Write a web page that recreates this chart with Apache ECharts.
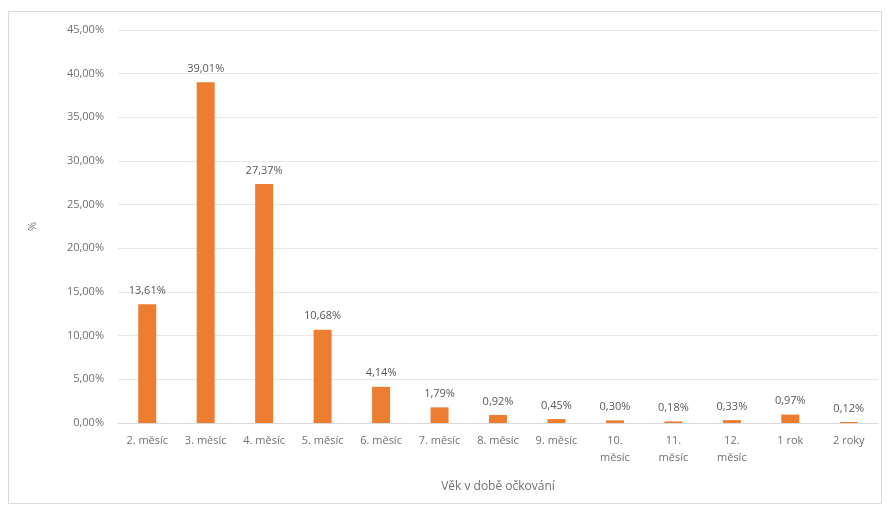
<!DOCTYPE html>
<html><head><meta charset="utf-8">
<script src="https://cdn.jsdelivr.net/npm/echarts@6/dist/echarts.min.js"></script>
<style>html,body{margin:0;padding:0;background:#fff}#c{width:890px;height:506px}</style>
</head><body><div id="c"></div>
<script>
var categories = ['2. měsíc','3. měsíc','4. měsíc','5. měsíc','6. měsíc','7. měsíc','8. měsíc','9. měsíc','10.\nměsíc','11.\nměsíc','12.\nměsíc','1 rok','2 roky'];
var values = [13.61, 39.01, 27.37, 10.68, 4.14, 1.79, 0.92, 0.45, 0.30, 0.18, 0.33, 0.97, 0.12];
var yTicks = [0, 5, 10, 15, 20, 25, 30, 35, 40, 45];
var xTitle = 'Věk v době očkování';
var yTitle = '%';

function fmt(v){ return v.toFixed(2).replace('.', ',') + '%'; }

var chart = echarts.init(document.getElementById('c'));
chart.setOption({
  animation: false,
  textStyle: {fontFamily: 'Open Sans, Liberation Sans, sans-serif'},
  graphic: [{type:'rect', shape:{x:8.5,y:11.5,width:873,height:492}, style:{fill:'none', stroke:'#d9d9d9', lineWidth:1}, silent:true}],
  grid: {left:118, right:12, top:30, bottom:83},
  xAxis: {
    type:'category', data: categories,
    axisLine:{lineStyle:{color:'#d9d9d9'}},
    axisTick:{show:false},
    axisLabel:{color:'#707070', fontSize:11, interval:0, margin:9, lineHeight:17},
    name: xTitle, nameLocation:'middle', nameGap:58,
    nameTextStyle:{color:'#707070', fontSize:12}
  },
  yAxis: {
    type:'value', min:yTicks[0], max:yTicks[yTicks.length-1], interval:5,
    axisLine:{show:false}, axisTick:{show:false},
    splitLine:{lineStyle:{color:'#e6e6e6'}},
    axisLabel:{color:'#707070', fontSize:11, margin:14, formatter:function(v){return fmt(v);}},
    name: yTitle, nameLocation:'middle', nameGap:80, nameRotate:90,
    nameTextStyle:{color:'#707070', fontSize:11}
  },
  series: [{
    type:'bar', data: values, barWidth:18,
    itemStyle:{color:'#ED7D31'},
    label:{show:true, position:'top', distance:8, color:'#595959', fontSize:11, formatter:function(p){return fmt(p.value);}}
  }]
});
</script></body></html>
